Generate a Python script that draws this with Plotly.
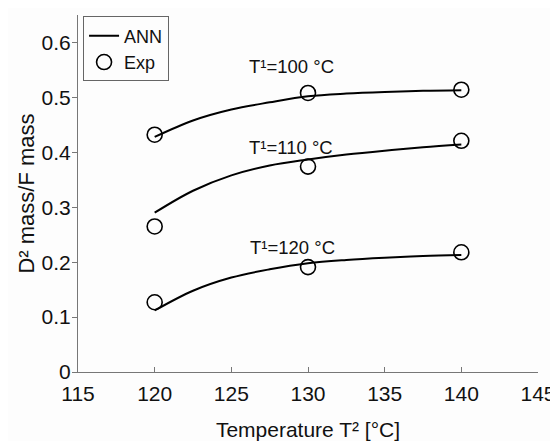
import plotly.graph_objects as go

# Experimental data
exp_x = [120, 130, 140]
exp_100 = [0.432, 0.508, 0.514]
exp_110 = [0.265, 0.374, 0.421]
exp_120 = [0.127, 0.191, 0.218]

# ANN predictions
ann_x = [120, 122.5, 125, 127.5, 130, 132.5, 135, 137.5, 140]
ann_100 = [0.428, 0.458, 0.478, 0.491, 0.502, 0.507, 0.510, 0.512, 0.513]
ann_110 = [0.290, 0.330, 0.358, 0.376, 0.387, 0.396, 0.403, 0.409, 0.414]
ann_120 = [0.112, 0.148, 0.172, 0.187, 0.198, 0.204, 0.208, 0.211, 0.213]

labels = ["T\u00b9=100 \u00b0C", "T\u00b9=110 \u00b0C", "T\u00b9=120 \u00b0C"]
label_x = [128.9, 128.9, 129.0]
label_y = [0.556, 0.408, 0.226]

x_ticks = [115, 120, 125, 130, 135, 140, 145]
y_ticks = [0, 0.1, 0.2, 0.3, 0.4, 0.5, 0.6]

FONT = "Liberation Sans, Arial, sans-serif"

fig = go.Figure()
for i, ann in enumerate([ann_100, ann_110, ann_120]):
    fig.add_trace(go.Scatter(
        x=ann_x, y=ann, mode="lines", line=dict(color="black", width=2, shape="spline"),
        name="ANN", legendgroup="ann", showlegend=(i == 0)))
for i, ex in enumerate([exp_100, exp_110, exp_120]):
    fig.add_trace(go.Scatter(
        x=exp_x, y=ex, mode="markers",
        marker=dict(symbol="circle-open", size=15, color="black", line=dict(width=1.6, color="black")),
        name="Exp", legendgroup="exp", showlegend=(i == 0)))

for t, lx, ly in zip(labels, label_x, label_y):
    fig.add_annotation(x=lx, y=ly, text=t, showarrow=False,
                       font=dict(family=FONT, size=18.5, color="#111"))

# page body has an 8px margin, so the figure is sized 8px smaller
fig.update_layout(
    width=550, height=433,
    margin=dict(l=70, r=20, t=7, b=69, autoexpand=False),
    paper_bgcolor="#fdfdfd", plot_bgcolor="#fdfdfd",
    font=dict(family=FONT, size=21, color="#111"),
    legend=dict(x=0.011, y=0.996, xanchor="left", yanchor="top",
                bordercolor="#666", borderwidth=1, bgcolor="#fdfdfd",
                font=dict(size=18), itemwidth=30, tracegroupgap=0),
    showlegend=True,
)
fig.update_xaxes(range=[115, 145], tickvals=x_ticks, ticktext=[str(v) for v in x_ticks],
                 showgrid=False, zeroline=False, showline=True, linecolor="#777", linewidth=1,
                 ticks="inside", ticklen=5, tickcolor="#777", automargin=False,
                 tickfont=dict(size=21), ticklabelstandoff=3,
                 title=dict(text="Temperature T\u00b2 [\u00b0C]", font=dict(size=21), standoff=18))
fig.update_yaxes(range=[0, 0.65], tickvals=y_ticks, ticktext=["0", "0.1", "0.2", "0.3", "0.4", "0.5", "0.6"],
                 showgrid=False, zeroline=False, showline=True, linecolor="#777", linewidth=1,
                 ticks="outside", ticklen=5, tickcolor="#777", automargin=False,
                 tickfont=dict(size=21), ticklabelstandoff=-3,
                 title=dict(text="D\u00b2 mass/F mass", font=dict(size=22), standoff=0))

fig.write_html("out.html")
